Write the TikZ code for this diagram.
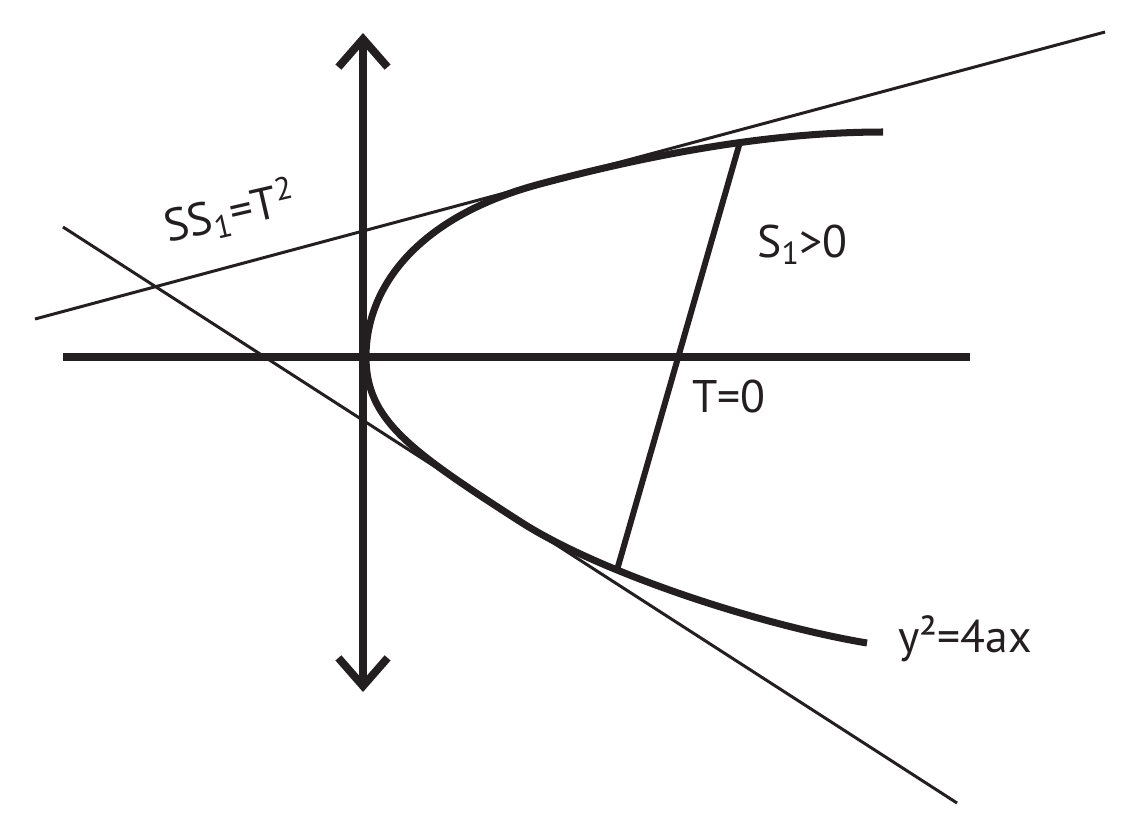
\documentclass[tikz,border=0pt]{standalone}
\usepackage{fontspec}
\setmainfont{PT Sans}
\usetikzlibrary{arrows.meta,calc}
\definecolor{inkblack}{HTML}{231F20}

\begin{document}
\begin{tikzpicture}[x=0.02cm,y=-0.02cm,
    axisline/.style={line width=4.5pt,color=inkblack},
    curveline/.style={line width=4pt,color=inkblack},
    chordline/.style={line width=3.4pt,color=inkblack},
    thinline/.style={line width=1.7pt,color=inkblack},
    lbl/.style={inner sep=0pt,anchor=base west,text=inkblack,font=\fontsize{26}{31}\selectfont}]
    %Definitions - picture measured in pixels of the sketch%
    %===========================================================
    \def \AxisX {363}; %Position of the vertical axis
    \def \AxisY {357}; %Position of the horizontal axis
    \useasboundingbox (0,0) rectangle (1124,833);
    %Locations%
    %===========================================================
    \coordinate (vertex) at (366,\AxisY); %Vertex of the parabola
    \coordinate (xaxis_l) at (63,\AxisY);
    \coordinate (xaxis_r) at (970,\AxisY);
    \coordinate (yaxis_t) at (\AxisX,33);
    \coordinate (yaxis_b) at (\AxisX,692);
    \coordinate (pair_a) at (35,319); %Pair of tangents SS1=T^2
    \coordinate (pair_b) at (1105,32);
    \coordinate (line_a) at (63,227); %Second line
    \coordinate (line_b) at (957,803);
    \coordinate (touch_up) at (540,184); %Upper point of contact
    \coordinate (touch_lo) at (520,521.5); %Lower point of contact
    \coordinate (end_up) at (883,132); %Ends of the parabola
    \coordinate (end_lo) at (867,643);
    \coordinate (chord_p) at (740,142); %Chord of contact T=0
    \coordinate (chord_q) at (617,570);

    %AXES%
    \draw[axisline,{Straight Barb[sharp,length=16pt,width=28pt]}-{Straight Barb[sharp,length=16pt,width=28pt]}] (yaxis_b) -- (yaxis_t);
    \draw[axisline] (xaxis_l) -- (xaxis_r);

    %=============================================================================================================
    %Tangents and chord
    %=============================================================================================================
    \draw[thinline] (pair_a) -- (pair_b); %Upper tangent
    \draw[thinline] (line_a) -- (line_b); %Lower tangent
    %PARABOLA y^2=4ax %
    \draw[curveline] (end_up) .. controls (800,132) and (690,144) .. (touch_up)
        .. controls (420,216) and (366,285) .. (vertex)
        .. controls (366,420) and (410,450.6) .. (touch_lo)
        .. controls (600,573) and (760,625) .. (end_lo);
    \draw[chordline] (chord_p) -- (chord_q); %Chord of contact

    %Labels%
    \node[lbl,rotate=13] (lbl_pair) at (168,243) {SS\textsubscript{1}=T\textsuperscript{2}};
    \node[lbl] (lbl_sone) at (757,257) {S\textsubscript{1}>0};
    \node[lbl] (lbl_chord) at (692,412) {T=0};
    \node[lbl] (lbl_curve) at (898,652) {y²=4ax};
\end{tikzpicture}
\end{document}
